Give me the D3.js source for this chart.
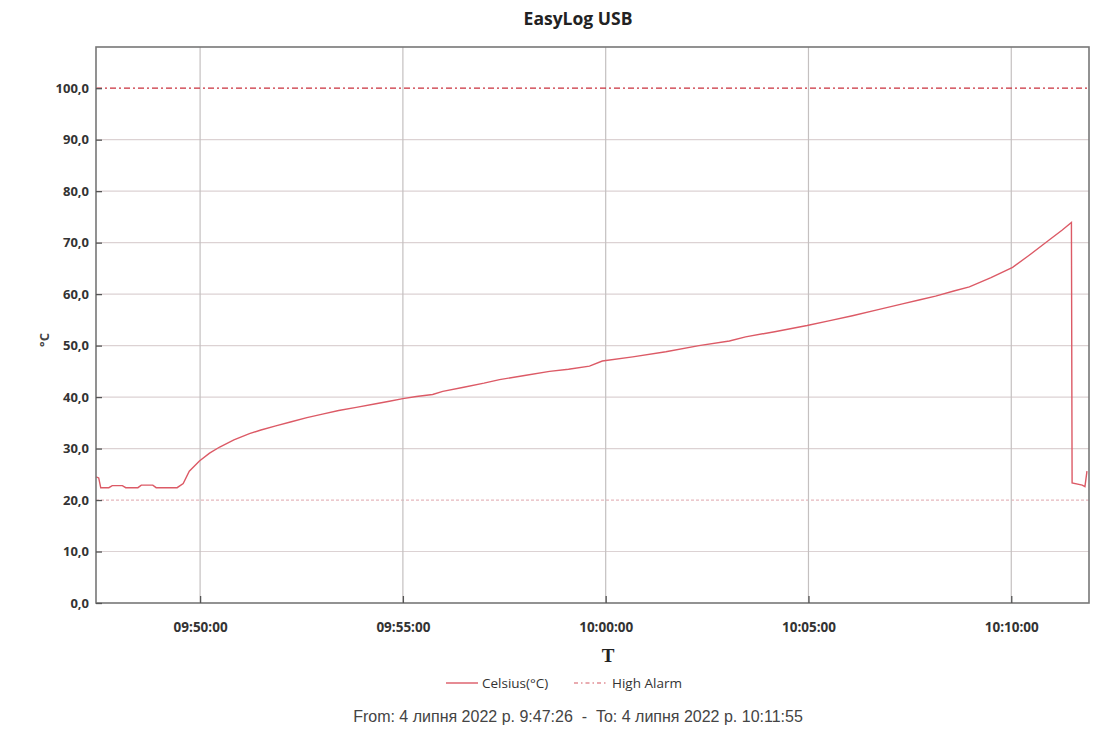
<!DOCTYPE html>
<html><head><meta charset="utf-8">
<script src="https://cdn.jsdelivr.net/npm/d3@7"></script>
<style>
html,body{margin:0;padding:0;background:#fff;}
svg{display:block;}
</style></head>
<body>
<svg id="chart" width="1093" height="733"></svg>
<script>
// ---- data ----
const times = ["09:47:26","09:47:30","09:47:33","09:47:45","09:47:50","09:48:05","09:48:10","09:48:28","09:48:33","09:48:50","09:48:55","09:49:26","09:49:35","09:49:44","09:49:59","09:50:14","09:50:29","09:50:50","09:51:13","09:51:30","09:51:52","09:52:15","09:52:38","09:53:01","09:53:25","09:53:51","09:54:20","09:54:40","09:55:00","09:55:20","09:55:44","09:55:59","09:56:30","09:57:00","09:57:23","09:58:00","09:58:37","09:59:05","09:59:36","09:59:55","10:00:40","10:01:29","10:02:18","10:03:03","10:03:27","10:04:10","10:04:58","10:05:30","10:06:05","10:06:40","10:07:19","10:07:45","10:08:08","10:08:35","10:08:58","10:09:30","10:10:02","10:10:26","10:10:56","10:11:15","10:11:29","10:11:30","10:11:45","10:11:49","10:11:52"];
const celsius = [24.5,24.3,22.4,22.4,22.8,22.8,22.4,22.4,22.9,22.9,22.4,22.4,23.2,25.6,27.6,29.1,30.3,31.7,32.9,33.6,34.4,35.2,36.0,36.7,37.4,38.0,38.7,39.2,39.7,40.1,40.5,41.1,41.9,42.7,43.4,44.2,45.0,45.4,46.0,47.0,47.8,48.8,50.0,50.9,51.7,52.7,53.9,54.8,55.8,56.9,58.1,58.9,59.6,60.6,61.4,63.2,65.2,67.5,70.5,72.4,73.9,23.3,22.9,22.6,25.6];
const highAlarm = 100;
const yTicks = [0,10,20,30,40,50,60,70,80,90,100];
const xTickLabels = ["09:50:00","09:55:00","10:00:00","10:05:00","10:10:00"];
const timeRange = ["09:47:26","10:11:55"];
const title = "EasyLog USB";
const yLabel = "°C";
const xLabel = "T";
const legendLabels = ["Celsius(°C)","High Alarm"];
const footer = "From: 4 липня 2022 р. 9:47:26  -  To: 4 липня 2022 р. 10:11:55";

// ---- layout ----
const parse = d3.timeParse("%H:%M:%S");
const svg = d3.select("#chart");
const L = 96, R = 1089, T = 47, B = 603;
const x = d3.scaleTime().domain(timeRange.map(parse)).range([L, R]);
const y = d3.scaleLinear().domain([0, 108]).range([B, T]);
const data = times.map((t,i)=>({t:parse(t), v:celsius[i]}));
const lineColor = "#dc5a66", alarmColor = "#c9303c";

svg.append("text").attr("x",578).attr("y",25).attr("text-anchor","middle")
  .attr("font-family","Open Sans, sans-serif").attr("font-weight","bold").attr("font-size",17.5)
  .attr("fill","#222").text(title);

// grid
const g = svg.append("g");
g.selectAll(".hg").data(yTicks.filter(d=>d>0 && d<100)).enter().append("line")
  .attr("x1",L).attr("x2",R).attr("y1",d=>y(d)).attr("y2",d=>y(d))
  .attr("stroke",d=>d===20?"#e6b8bd":"#dcd2d3").attr("stroke-width",1.2)
  .attr("stroke-dasharray",d=>d===20?"3,2":null);
g.selectAll(".vg").data(xTickLabels.map(parse)).enter().append("line")
  .attr("x1",d=>x(d)).attr("x2",d=>x(d)).attr("y1",T).attr("y2",B)
  .attr("stroke","#c4c0c0").attr("stroke-width",1.2);

// alarm line
svg.append("line").attr("x1",L).attr("x2",R).attr("y1",y(highAlarm)).attr("y2",y(highAlarm))
  .attr("stroke",alarmColor).attr("stroke-width",1.3).attr("stroke-dasharray","6,3,2,3");

// data line
svg.append("path").datum(data).attr("fill","none").attr("stroke",lineColor).attr("stroke-width",1.4)
  .attr("d", d3.line().x(d=>x(d.t)).y(d=>y(d.v)));

// frame
svg.append("rect").attr("x",L).attr("y",T).attr("width",R-L).attr("height",B-T)
  .attr("fill","none").attr("stroke","#777").attr("stroke-width",1.6);

// axes
const yAxis = d3.axisLeft(y).tickValues(yTicks).tickSize(-6).tickPadding(7)
  .tickFormat(d=>d3.format(".1f")(d).replace(".",","));
const ya = svg.append("g").attr("transform",`translate(${L},0)`).call(yAxis);
ya.select(".domain").remove();
ya.selectAll("line").attr("stroke","#555").attr("stroke-width",1.3);
ya.selectAll("text").attr("font-family","Open Sans, sans-serif").attr("font-weight","bold")
  .attr("font-size",13).attr("fill","#333");

const xAxis = d3.axisBottom(x).tickValues(xTickLabels.map(parse)).tickSize(-7).tickPadding(19)
  .tickFormat(d3.timeFormat("%H:%M:%S"));
const xa = svg.append("g").attr("transform",`translate(0,${B})`).call(xAxis);
xa.select(".domain").remove();
xa.selectAll("line").attr("stroke","#555").attr("stroke-width",1.3);
xa.selectAll("text").attr("font-family","Open Sans, sans-serif").attr("font-weight","bold")
  .attr("font-size",13.5).attr("fill","#333");

// axis titles
svg.append("text").attr("transform","translate(49,340) rotate(-90)").attr("text-anchor","middle")
  .attr("font-family","Open Sans, sans-serif").attr("font-weight","bold").attr("font-size",13)
  .attr("fill","#444").text(yLabel);
svg.append("text").attr("x",608).attr("y",662).attr("text-anchor","middle")
  .attr("font-family","Liberation Serif, serif").attr("font-weight","bold").attr("font-size",19)
  .attr("fill","#222").text(xLabel);

// legend
const lg = svg.append("g").attr("font-family","Open Sans, sans-serif").attr("font-size",13.5).attr("fill","#333");
lg.append("line").attr("x1",446).attr("x2",478).attr("y1",683).attr("y2",683).attr("stroke",lineColor).attr("stroke-width",1.4);
lg.append("text").attr("x",482).attr("y",688).text(legendLabels[0]);
lg.append("line").attr("x1",574).attr("x2",607).attr("y1",683).attr("y2",683).attr("stroke",alarmColor)
  .attr("stroke-width",1.2).attr("stroke-dasharray","4,3,1.5,3").attr("opacity",0.8);
lg.append("text").attr("x",612).attr("y",688).text(legendLabels[1]);

// footer
svg.append("text").attr("x",578).attr("y",722).attr("text-anchor","middle")
  .attr("font-family","Liberation Sans, Arial, sans-serif").attr("font-size",16).attr("fill","#444")
  .attr("xml:space","preserve").style("white-space","pre").text(footer);
</script>
</body></html>
